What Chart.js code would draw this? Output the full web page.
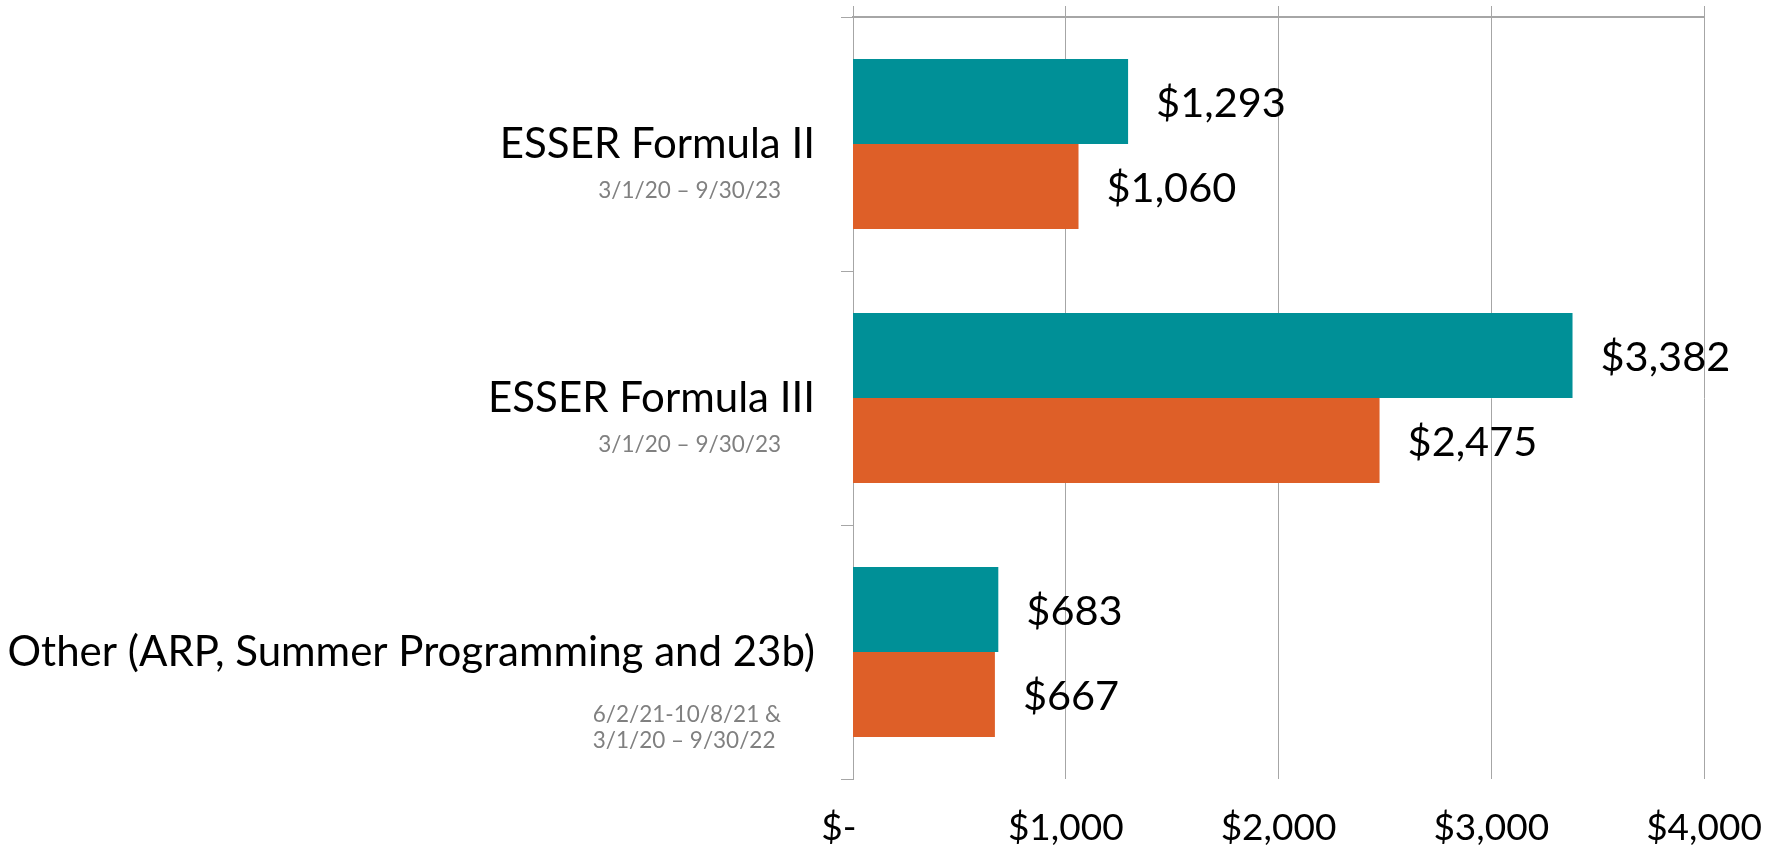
<!DOCTYPE html>
<html>
<head>
<meta charset="utf-8">
<script src="https://cdn.jsdelivr.net/npm/chart.js@4"></script>
<style>
  html, body { margin: 0; padding: 0; background: #fff; }
  #wrap { width: 1775px; height: 848px; }
</style>
</head>
<body>
<div id="wrap"><canvas id="fundsChart"></canvas></div>
<script>
const categories = ['ESSER Formula II', 'ESSER Formula III', 'Other (ARP, Summer Programming and 23b)'];
const periods = [
    ['3/1/20 \u2013 9/30/23'],
    ['3/1/20 \u2013 9/30/23'],
    ['6/2/21-10/8/21 &', '3/1/20 \u2013 9/30/22']
];
const allocated = [1293, 3382, 683];
const spent = [1060, 2475, 667];
const xTicks = [0, 1000, 2000, 3000, 4000];

const gridGray = '#a6a6a6';

function money(v) {
    if (v === 0) return '$-   ';
    return '$' + v.toLocaleString('en-US');
}

// value labels to the right of each bar
const barLabels = {
    id: 'barLabels',
    afterDatasetsDraw(chart) {
        const c = chart.ctx;
        c.save();
        c.font = '41.5px Lato';
        c.fillStyle = '#000';
        c.textAlign = 'left';
        c.textBaseline = 'middle';
        chart.data.datasets.forEach((ds, di) => {
            chart.getDatasetMeta(di).data.forEach((bar, i) => {
                c.fillText(money(ds.data[i]), bar.x + 28, bar.y + 2);
            });
        });
        c.restore();
    }
};

// grey date ranges under each category name
const periodLabels = {
    id: 'periodLabels',
    afterDraw(chart) {
        const c = chart.ctx;
        const y = chart.scales.y;
        c.save();
        c.font = '22.5px Lato';
        c.fillStyle = '#808080';
        c.textAlign = 'left';
        c.textBaseline = 'middle';
        periods.forEach((lines, i) => {
            const w = Math.max(...lines.map(t => c.measureText(t).width));
            const left = y.right - 72 - w;
            const top = y.getPixelForValue(i) + 47 + (lines.length - 1) * 15.5;
            lines.forEach((t, k) => c.fillText(t, left, top + k * 26.5));
        });
        c.restore();
    }
};

new Chart(document.getElementById('fundsChart'), {
    type: 'bar',
    data: {
        labels: categories,
        datasets: [
            {
                label: 'Allocated',
                data: allocated,
                backgroundColor: '#009097',
                categoryPercentage: 0.67,
                barPercentage: 1.0
            },
            {
                label: 'Spent',
                data: spent,
                backgroundColor: '#de5f28',
                categoryPercentage: 0.67,
                barPercentage: 1.0
            }
        ]
    },
    options: {
        indexAxis: 'y',
        responsive: true,
        maintainAspectRatio: false,
        animation: false,
        layout: { padding: { top: 6, right: 71, bottom: 0, left: 0 } },
        plugins: {
            legend: { display: false },
            tooltip: { enabled: false }
        },
        scales: {
            x: {
                type: 'linear',
                position: 'bottom',
                min: 0,
                max: 4000,
                afterBuildTicks: s => { s.ticks = xTicks.map(v => ({ value: v })); },
                afterFit: s => {
                    s.height = 69;
                    s.paddingLeft = 0;
                    s.paddingRight = 0;
                },
                grid: { display: false, drawTicks: false },
                border: { display: false },
                ticks: {
                    padding: 27,
                    color: '#000',
                    font: { family: 'Lato', size: 37 },
                    callback: v => money(v)
                }
            },
            // top axis: carries the top rule, the gridlines and the short ticks above it
            x2: {
                type: 'linear',
                axis: 'x',
                position: 'top',
                min: 0,
                max: 4000,
                afterBuildTicks: s => { s.ticks = xTicks.map(v => ({ value: v })); },
                afterFit: s => {
                    s.height = 11;
                    s.paddingLeft = 0;
                    s.paddingRight = 0;
                },
                grid: { color: gridGray, lineWidth: 1, drawTicks: true, tickLength: 11 },
                border: { display: true, color: gridGray, width: 2 },
                ticks: { display: false }
            },
            y: {
                afterFit: s => {
                    s.width = 853;
                    s.paddingTop = 0;
                    s.paddingBottom = 0;
                },
                grid: {
                    drawOnChartArea: false,
                    drawTicks: true,
                    tickLength: 12,
                    color: gridGray,
                    offset: true
                },
                border: { display: true, color: gridGray, width: 1 },
                ticks: {
                    padding: 26,
                    color: '#000',
                    font: { family: 'Lato', size: 42 }
                }
            }
        }
    },
    plugins: [barLabels, periodLabels]
});
</script>
</body>
</html>
